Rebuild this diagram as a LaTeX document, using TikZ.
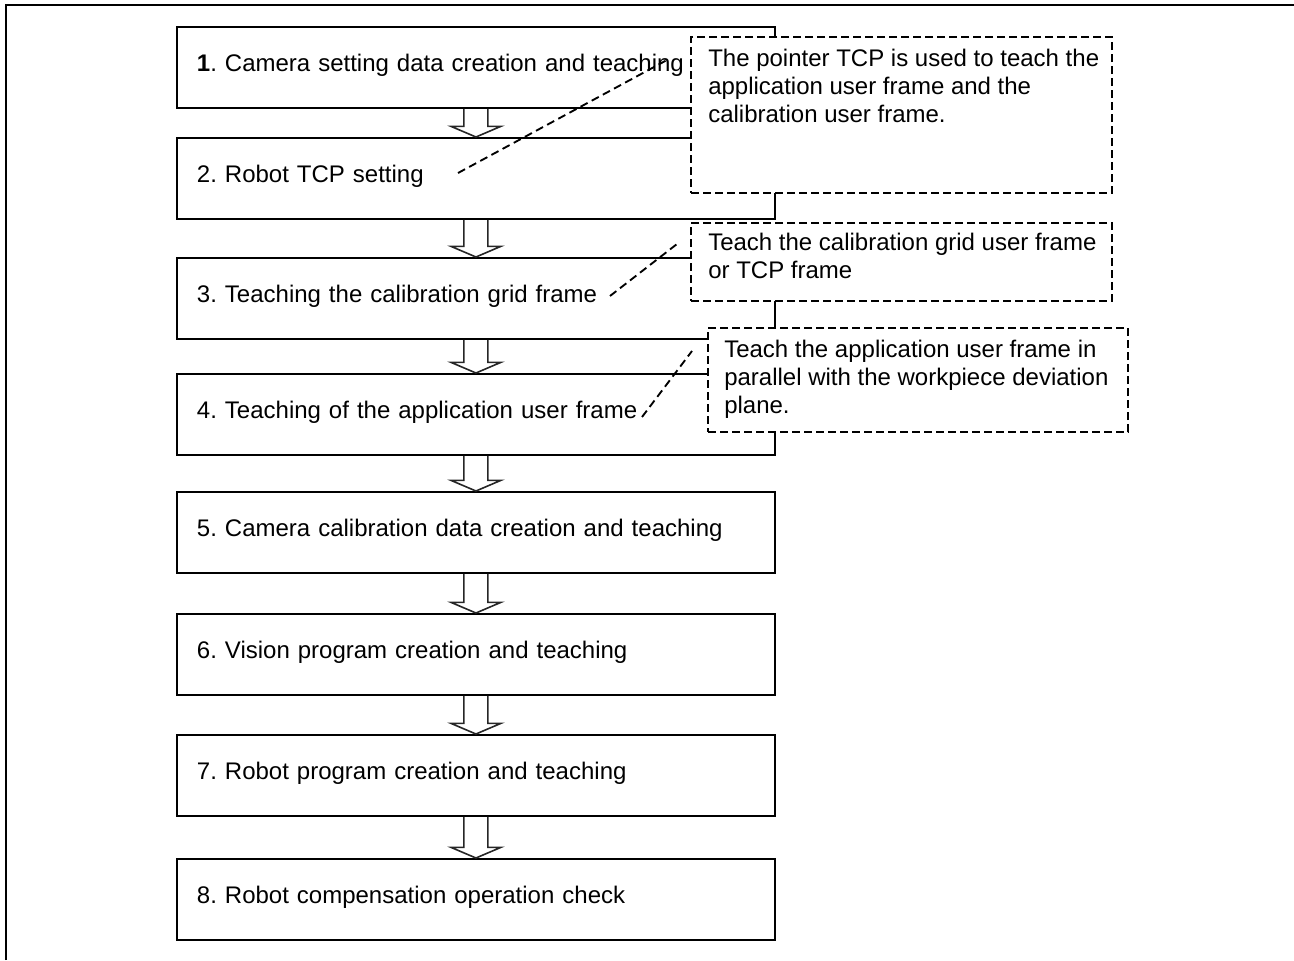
\documentclass[tikz,border=0pt]{standalone}
\usepackage{fontspec}
\setmainfont{Liberation Sans}
\usetikzlibrary{calc}
\frenchspacing
\tikzset{
  stepbox/.style={draw=black, line width=1.4pt, fill=white, anchor=north west,
    text width=418.5pt, inner xsep=15pt, inner ysep=0pt, minimum height=60.75pt, align=left,
    font=\fontsize{18}{21}\selectfont, execute at end node={\rule[-7pt]{0pt}{0pt}}},
  callout/.style={draw=black, line width=1.5pt, dash pattern=on 6pt off 3pt, fill=white,
    anchor=north west, inner sep=0pt},
  callouttext/.style={anchor=north west, inner sep=0pt, align=left,
    font=\fontsize{18}{21}\selectfont},
  leader/.style={draw=black, line width=1.4pt, dash pattern=on 6pt off 3.5pt},
  hollow/.style={draw=black!85, line width=1.2pt, line join=miter},
}
\newcommand\hollowarrow[2]{%
  \draw[hollow] let \p1=(#1.south), \p2=(#2.north) in
    (\x1-9pt,\y1) -- (\x1-9pt,\y2+8pt) -- (\x1-18.75pt,\y2+8pt) -- (\x2,\y2)
    -- (\x1+18.75pt,\y2+8pt) -- (\x1+9pt,\y2+8pt) -- (\x1+9pt,\y1);}
\begin{document}
\begin{tikzpicture}[x=0.75pt,y=-0.75pt]
\useasboundingbox (0,0) rectangle (1294,960);
% outer frame (top and left only)
\draw[line width=1.6pt] (6,960) -- (6,5) -- (1294,5);
% main steps
\node[stepbox] (b1) at (176,26)  {\textbf{1}. Camera setting data creation and teaching};
\node[stepbox] (b2) at (176,137) {2. Robot TCP setting};
\node[stepbox] (b3) at (176,257) {3. Teaching the calibration grid frame};
\node[stepbox] (b4) at (176,373) {4. Teaching of the application user frame};
\node[stepbox] (b5) at (176,491) {5. Camera calibration data creation and teaching};
\node[stepbox] (b6) at (176,613) {6. Vision program creation and teaching};
\node[stepbox] (b7) at (176,734) {7. Robot program creation and teaching};
\node[stepbox] (b8) at (176,858) {8. Robot compensation operation check};
% hollow arrows
\hollowarrow{b1}{b2}
\hollowarrow{b2}{b3}
\hollowarrow{b3}{b4}
\hollowarrow{b4}{b5}
\hollowarrow{b5}{b6}
\hollowarrow{b6}{b7}
\hollowarrow{b7}{b8}
% callouts
\node[callout, minimum width=315.75pt, minimum height=117pt] (c1) at (690,36) {};
\node[callouttext] (t1) at (708,49) {The pointer TCP is used to teach the\\application user frame and the\\calibration user frame.};
\node[callout, minimum width=315.75pt, minimum height=58.5pt] (c2) at (690,222) {};
\node[callouttext] (t2) at (708,233) {Teach the calibration grid user frame\\or TCP frame};
\node[callout, minimum width=315pt, minimum height=78pt] (c3) at (707,327) {};
\node[callouttext] (t3) at (724,340) {Teach the application user frame in\\parallel with the workpiece deviation\\plane.};
% leader lines
\coordinate (l1a) at (458,173); \coordinate (l1b) at (667,60);
\coordinate (l2a) at (610,296); \coordinate (l2b) at (677,244);
\coordinate (l3a) at (642,417); \coordinate (l3b) at (692,351);
\draw[leader] (l1a) -- (l1b);
\draw[leader] (l2a) -- (l2b);
\draw[leader] (l3a) -- (l3b);
\end{tikzpicture}
\end{document}
